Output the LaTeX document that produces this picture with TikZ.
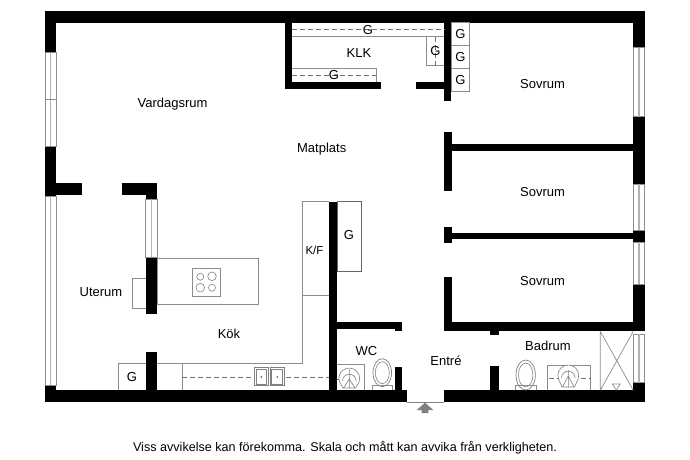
\documentclass[tikz,border=0pt]{standalone}
\usepackage{fontspec}
\setmainfont{Liberation Sans}

\begin{document}
\begin{tikzpicture}[x=1pt,y=-1pt,wall/.style={fill=black},fixture/.style={draw=black!45,line width=0.7pt},water/.style={draw=black!55,line width=0.6pt,dashed,dash pattern=on 5pt off 3pt},room/.style={font=\fontsize{13}{15}\selectfont,inner sep=0pt},pan/.style={draw=black!50,line width=0.6pt}]

    \useasboundingbox (0,0) rectangle (690,460);

    % outer walls and partitions
    \foreach \xa/\ya/\xb/\yb in {45/11/644.7/22.7, 45/22/56.3/52.7, 45/146/56.3/196, 45/385.3/56.3/391,
            56/182.7/82.3/194.5, 121.7/182.7/157/194.5, 145.7/194/157/199.3, 145.7/257.3/157/314,
            145.7/352.3/157/391, 45/390.3/406.7/402.3, 444.2/390.3/644.7/402.3,
            284.7/22/291.7/89, 284.7/82.3/381.3/89, 416/82.3/444.4/89, 444.3/22/451.3/101,
            633.3/22/644.7/47.7, 633.3/116.7/644.7/184.3, 633.3/230/644.7/242.3, 633.3/284.3/644.7/331,
            633.3/382.7/644.7/391,
            444.3/132.3/451.7/191, 451/144.3/634/151.3, 444.3/227/451.7/243.3, 451/232.7/634/239.3,
            444.3/276.7/451.7/331, 444.3/322.3/634/331.3, 490/331/499.3/335.3, 490/366/499.3/391,
            329/201.7/337.3/391, 337/322.3/402.3/329, 395/328/402.3/331.3, 395/366.7/402.3/391}
        \fill[wall] (\xa,\ya) rectangle (\xb,\yb);

    % windows
    \foreach \xa/\ya/\yb in {45/52.7/146, 45/196/385.3, 145.7/199.3/257.3, 633.3/47.7/116.7,
            633.3/184.3/230, 633.3/242.3/284.3, 633.3/334/382.7} {
        \draw[fixture,line width=0.5pt] (\xa,\ya) rectangle (\xa+11.4,\yb);
        \draw[draw=black!30,line width=1.4pt] (\xa+5.7,\ya) -- (\xa+5.7,\yb);
    }
    \draw[fixture,line width=0.5pt] (45,99.3) -- (56.3,99.3);

    % closet
    \draw[fixture] (291.7,36.7) -- (444.3,36.7);
    \draw[water] (291.7,29.7) -- (444.3,29.7);
    \draw[fixture] (291.7,68.3) -- (376.7,68.3) -- (376.7,82.3);
    \draw[water] (291.7,75.3) -- (376.7,75.3);
    \draw[fixture] (444.3,65.7) -- (426,65.7) -- (426,36.7);
    \draw[water] (435.3,36.7) -- (435.3,65.7);
    \draw[fixture] (451.3,22.7) rectangle (469.3,91.3);
    \draw[fixture] (451.3,45.7) -- (469.3,45.7) (451.3,68.3) -- (469.3,68.3);

    % kitchen
    \draw[fixture] (157,258.3) rectangle (258.7,304);
    \draw[fixture] (192.3,268.3) rectangle (220,296);
    \draw[pan] (200.3,276.7) circle (3.5) (212,276.3) circle (4.3) (200.3,287.7) circle (4.3) (212,287.7) circle (3.5);
    \draw[fixture] (145.7,278.7) -- (132.3,278.7) -- (132.3,308.7) -- (145.7,308.7);
    \draw[fixture] (118.3,390.3) -- (118.3,363.3) -- (145.7,363.3);
    \draw[fixture] (157,363.3) -- (302.3,363.3) -- (302.3,201.7) -- (329,201.7);
    \draw[fixture] (182.3,363.3) -- (182.3,390.3);
    \draw[fixture] (302.3,295) -- (329,295);
    \draw[water] (182.3,377) -- (329,377);
    \draw[pan,fill=white] (254.3,367.7) rectangle (268.3,385.7) (270,367.7) rectangle (284.3,385.7);
    \draw[pan] (256,369.5) rectangle (266.6,384) (271.7,369.5) rectangle (282.6,384);
    \fill[black!70] (261.3,377) circle (0.9) (277.2,377) circle (0.9);
    \draw[black!60,line width=0.8pt] (337.3,201.7) rectangle (361.7,271.7);

    % wc
    \draw[fixture] (337.3,364.7) -- (364.3,364.7) -- (364.3,390.3);
    \draw[water] (337.3,379.3) -- (339.5,379.3);
    \draw[pan,fill=white] (339.5,382) arc (160:380:10.4) -- (355.5,388) -- (343,388) -- cycle;
    \draw[pan] (349.3,369) -- (349.3,388) (349.3,379) -- (343.5,388) (349.3,379) -- (355,388);
    \draw[pan] (342.5,381) arc (180:360:6.8);
    \draw[pan,line width=0.7pt] (382.3,372.7) ellipse (9.3 and 14);
    \draw[pan] (382.3,372.7) ellipse (7 and 11);
    \draw[fixture] (372.3,390.3) -- (372.3,385) -- (392.3,385) -- (392.3,390.3);

    % bathroom
    \draw[fixture] (547,390.3) -- (547,365.3) -- (590.7,365.3) -- (590.7,390.3);
    \draw[water] (549,378) -- (590.7,378);
    \draw[pan,fill=white] (558.5,379) arc (160:380:10.4) -- (574.5,387) -- (562,387) -- cycle;
    \draw[pan] (568.3,370) -- (568.3,387) (568.3,376) -- (562.5,387) (568.3,376) -- (574,387);
    \draw[pan] (561.5,378) arc (180:360:6.8);
    \draw[pan,line width=0.7pt] (525.7,375) ellipse (9.7 and 15);
    \draw[pan] (525.7,375) ellipse (7.2 and 12);
    \draw[fixture] (515.3,390.3) -- (515.3,385) -- (536,385) -- (536,390.3);
    \draw[fixture] (600.3,331.3) -- (600.3,390.3) (633.3,331.3) -- (600.3,390.3) (600.3,331.3) -- (633.3,390.3);
    \draw[fixture] (612.3,384) -- (620.3,384) -- (616.3,390) -- cycle;

    % entrance
    \draw[black!50,line width=0.6pt] (406.7,402) -- (444.3,402);
    \fill[black!50] (425,402.7) -- (433.3,410) -- (428.3,410) -- (428.3,413) -- (421.7,413) -- (421.7,410) -- (416.7,410) -- cycle;

    \node[room] (vardagsrum) at (172.5,104.5) {Vardagsrum};
    \node[room] (matplats) at (321.7,149.5) {Matplats};
    \node[room] (klk) at (359,53) {KLK};
    \node[room] (sovrum1) at (542.5,84.5) {Sovrum};
    \node[room] (sovrum2) at (542.5,192.5) {Sovrum};
    \node[room] (sovrum3) at (542.5,281.5) {Sovrum};
    \node[room] (uterum) at (101,292.5) {Uterum};
    \node[room] (kok) at (229,334) {Kök};
    \node[room] (wc) at (366.5,351.5) {WC};
    \node[room] (entre) at (446,361) {Entré};
    \node[room] (badrum) at (548,345.5) {Badrum};
    \node[room,font=\fontsize{11.5}{13}\selectfont] (kf) at (314.5,250) {K/F};
    \node[room] (klad1) at (368,29.7) {G};
    \node[room] (klad2) at (334,75.3) {G};
    \node[room] (klad3) at (435.5,51) {G};
    \node[room] (klad4) at (460.3,34.5) {G};
    \node[room] (klad5) at (460.3,57.5) {G};
    \node[room] (klad6) at (460.3,80) {G};
    \node[room] (klad7) at (349,235) {G};
    \node[room] (klad8) at (132,377) {G};
    \node[room,font=\fontsize{12.6}{15}\selectfont] (note) at (345,448) {Viss avvikelse kan förekomma. Skala och mått kan avvika från verkligheten.};
\end{tikzpicture}
\end{document}
